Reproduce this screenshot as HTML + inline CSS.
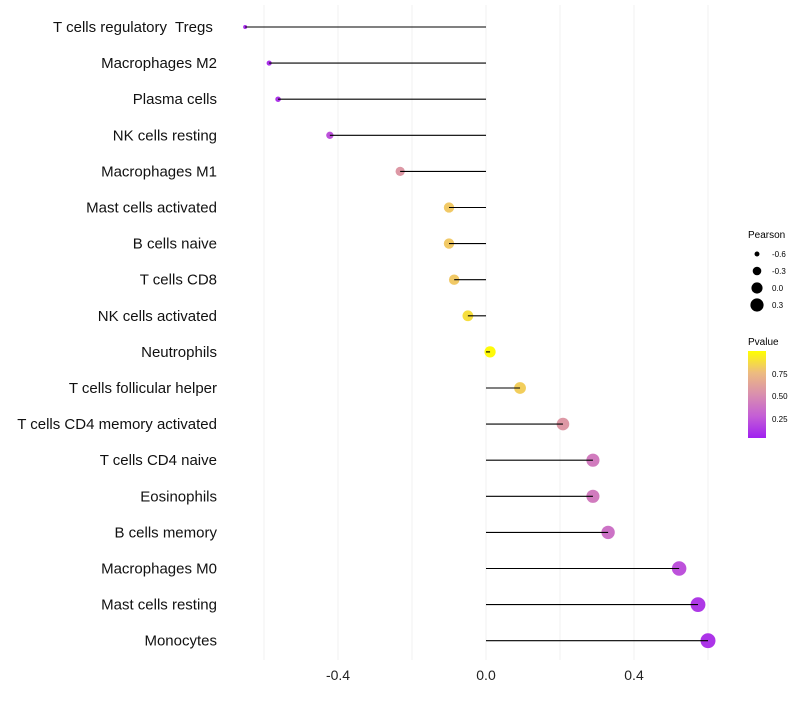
<!DOCTYPE html>
<html><head><meta charset="utf-8"><style>
body{margin:0;background:#fff;font-family:"Liberation Sans",sans-serif}
svg text{font-family:"Liberation Sans",sans-serif;white-space:pre}
</style></head><body>
<svg id="chart" width="800" height="700">
<defs><linearGradient id="pg" x1="0" y1="1" x2="0" y2="0">
<stop offset="0" stop-color="#a020f0"/><stop offset="0.25" stop-color="#c45ed6"/><stop offset="0.5" stop-color="#d98fae"/><stop offset="0.75" stop-color="#edbb80"/><stop offset="1" stop-color="#ffff00"/></linearGradient></defs>
<g id="grid"></g>
<g id="points"></g>
<g id="marks"></g>
<g id="labels"></g>
<g id="xt"></g>
<g id="sleg">
<text x="748" y="238" font-size="10">Pearson</text>
</g>
<g>
<text x="748" y="345" font-size="10">Pvalue</text>
<rect x="748" y="351" width="18" height="87" fill="url(#pg)"/>
<text x="772" y="377" font-size="8">0.75</text>
<text x="772" y="399" font-size="8">0.50</text>
<text x="772" y="422" font-size="8">0.25</text>
</g>
</svg>
<script>
const categories=["T cells regulatory  Tregs ","Macrophages M2","Plasma cells","NK cells resting","Macrophages M1","Mast cells activated","B cells naive","T cells CD8","NK cells activated","Neutrophils","T cells follicular helper","T cells CD4 memory activated","T cells CD4 naive","Eosinophils","B cells memory","Macrophages M0","Mast cells resting","Monocytes"];
const pearson=[-0.651,-0.586,-0.562,-0.422,-0.232,-0.10,-0.10,-0.086,-0.049,0.011,0.092,0.208,0.289,0.289,0.33,0.522,0.573,0.60];
const pvalue=[0.05,0.07,0.08,0.2,0.55,0.8,0.8,0.8,0.88,0.98,0.82,0.55,0.4,0.4,0.35,0.2,0.1,0.08];
const xTicks=[-0.4,0.0,0.4];
const gridVals=[-0.6,-0.4,-0.2,0,0.2,0.4,0.6];
const sizeLegend=[-0.6,-0.3,0.0,0.3];
const NS="http://www.w3.org/2000/svg";
const X=v=>486+v*370;
const Y=i=>27+i*36.1;
const R=v=>Math.sqrt(Math.max(3,31+41.6*v));
const stops=[[0,[160,32,240]],[0.25,[196,94,214]],[0.5,[217,143,174]],[0.75,[237,187,128]],[1,[255,255,0]]];
function col(p){for(let i=1;i<stops.length;i++){if(p<=stops[i][0]){const a=stops[i-1],b=stops[i],t=(p-a[0])/(b[0]-a[0]);return "rgb("+a[1].map((c,k)=>Math.round(c+(b[1][k]-c)*t)).join(",")+")";}}return "rgb(255,255,0)";}
function mk(t,a,p){const e=document.createElementNS(NS,t);for(const k in a)e.setAttribute(k,a[k]);p.appendChild(e);return e;}
const grid=document.getElementById('grid'),marks=document.getElementById('marks'),points=document.getElementById('points'),labels=document.getElementById('labels'),xt=document.getElementById('xt'),sleg=document.getElementById('sleg');
gridVals.forEach(v=>{const l=mk('line',{x1:X(v),x2:X(v),y1:5,y2:660,stroke:'#f0f0f0','stroke-width':1},grid);

});
xTicks.forEach(v=>{const t=mk('text',{x:X(v),y:680,'font-size':14,'text-anchor':'middle',fill:'#222'},xt);t.textContent=v.toFixed(1);

});
categories.forEach((c,i)=>{
const d=mk('circle',{cx:X(pearson[i]),cy:Y(i),r:R(pearson[i]),fill:col(pvalue[i])},points);


const l=mk('line',{x1:X(0),x2:X(pearson[i]),y1:Y(i),y2:Y(i),stroke:'#000','stroke-width':1.1},marks);


const t=mk('text',{x:217,y:Y(i)+5,'font-size':15,'text-anchor':'end',fill:'#111'},labels);t.textContent=c;


});
sizeLegend.forEach((v,i)=>{const y=254+i*17;
const c=mk('circle',{cx:757,cy:y,r:R(v),fill:'#000'},sleg);


const t=mk('text',{x:772,y:y+3,'font-size':8},sleg);t.textContent=v.toFixed(1);

});
</script>
</body></html>
